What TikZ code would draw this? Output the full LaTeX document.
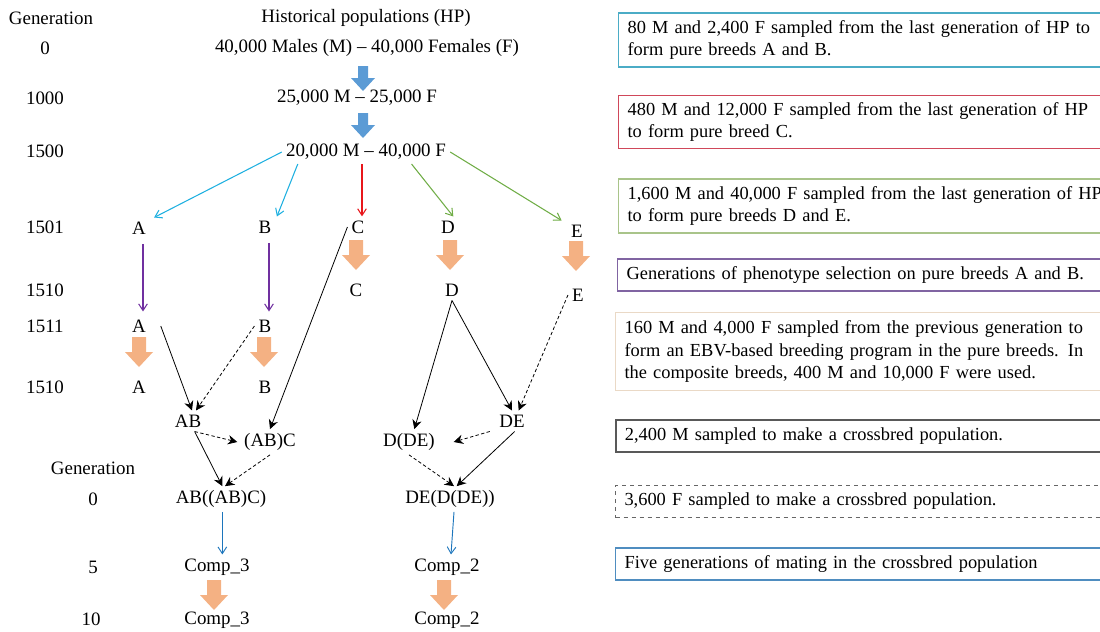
\documentclass[tikz,border=0pt]{standalone}
\usepackage{fontspec}
\setmainfont{Liberation Serif}
\usetikzlibrary{arrows.meta}

\definecolor{hpblue}{HTML}{5B9BD5}
\definecolor{selorange}{HTML}{F4B183}
\definecolor{abcyan}{HTML}{1FB0E0}
\definecolor{cred}{HTML}{E8161B}
\definecolor{degreen}{HTML}{70AD47}
\definecolor{phpurple}{HTML}{7030A0}
\definecolor{compblue}{HTML}{1C75BC}
\definecolor{boxcyan}{HTML}{4BACC6}
\definecolor{boxred}{HTML}{D0485A}
\definecolor{boxgreen}{HTML}{A9C48A}
\definecolor{boxpurple}{HTML}{8064A2}
\definecolor{boxtan}{HTML}{EAD9C6}
\definecolor{boxblue}{HTML}{4F8DC0}

\begin{document}
\begin{tikzpicture}[x=0.75pt, y=-0.75pt,
    lbl/.style={font=\fontsize{14.2}{17}\selectfont, inner sep=3pt},
    colarr/.style={-{Straight Barb[length=5pt, width=6.5pt]}, line width=0.8pt},
    crossarr/.style={-{Stealth[length=7pt, width=7pt]}, line width=0.6pt, black},
    femarr/.style={crossarr, dashed, dash pattern=on 2.5pt off 1.8pt},
    note/.style={draw, line width=0.9pt, anchor=west, align=left, text width=380pt,
        inner xsep=6.75pt, font=\fontsize{13.8}{17.2}\selectfont}]

    \useasboundingbox (0,0) rectangle (1100,632);
    \clip (0,0) rectangle (1100,632);

    % Generation column
    \node[lbl] (gtitle) at (51,18) {Generation};
    \foreach \g/\y in {0/48, 1000/98, 1500/151, 1501/227, 1510/290, 1511/326} {
        \node[lbl] (g\g) at (45,\y) {\g};
    }
    \node[lbl] (g1510b) at (45,387) {1510};
    \node[lbl] (gtitleb) at (93,468) {Generation};
    \node[lbl] (c0) at (93,499) {0};
    \node[lbl] (c5) at (93,567) {5};
    \node[lbl] (c10) at (91,619) {10};

    % Historical populations
    \node[lbl] (hp) at (366,18) {Historical populations (HP)};
    \node[lbl] (hp0) at (367,48) {40,000 Males (M) – 40,000 Females (F)};
    \node[lbl] (hp1000) at (357,98) {25,000 M – 25,000 F};
    \node[lbl] (hp1500) at (366,152) {20,000 M – 40,000 F};

    % Pure breeds
    \node[lbl] (A1) at (139,228) {A};
    \node[lbl] (B1) at (265,227) {B};
    \node[lbl] (C1) at (358,227) {C};
    \node[lbl] (D1) at (448,227) {D};
    \node[lbl] (E1) at (577,231) {E};
    \node[lbl] (C2) at (356,290) {C};
    \node[lbl] (D2) at (452,290) {D};
    \node[lbl] (E2) at (578,295) {E};
    \node[lbl] (A2) at (139,326) {A};
    \node[lbl] (B2) at (265,326) {B};
    \node[lbl] (A3) at (139,387) {A};
    \node[lbl] (B3) at (265,387) {B};

    % Crosses
    \node[lbl] (AB) at (188,421) {AB};
    \node[lbl] (ABC) at (270,442) {(AB)C};
    \node[lbl] (DDE) at (409,442) {D(DE)};
    \node[lbl] (DE) at (512,421) {DE};
    \node[lbl] (ABABC) at (221,499) {AB((AB)C)};
    \node[lbl] (DEDDE) at (450,499) {DE(D(DE))};
    \node[lbl] (comp3a) at (217,567) {Comp\_3};
    \node[lbl] (comp2a) at (447,567) {Comp\_2};
    \node[lbl] (comp3b) at (217,620) {Comp\_3};
    \node[lbl] (comp2b) at (447,620) {Comp\_2};

    % Block arrows (generations of random mating / selection)
    \foreach \x/\y in {363/66, 363/113} {
        \fill[hpblue] (\x-5,\y) -- (\x+5,\y) -- (\x+5,\y+12) -- (\x+12,\y+12) -- (\x,\y+25) -- (\x-12,\y+12) -- (\x-5,\y+12) -- cycle;
    }
    \foreach \x/\y in {356/240, 450/240, 576/241, 139/337, 264/337, 214/580, 444/580} {
        \fill[selorange] (\x-7,\y) -- (\x+7,\y) -- (\x+7,\y+15) -- (\x+14,\y+15) -- (\x,\y+30) -- (\x-14,\y+15) -- (\x-7,\y+15) -- cycle;
    }

    % Sampling from HP
    \draw[colarr, abcyan] (hp1500.west) -- ([xshift=3pt]A1.north east);
    \draw[colarr, abcyan] ([xshift=12pt]hp1500.south west) -- ([xshift=1pt]B1.north east);
    \draw[colarr, cred] ([xshift=-3pt]hp1500.south) -- ([xshift=-3pt]hp1500.south |- C1.north);
    \draw[colarr, degreen] ([xshift=-29pt]hp1500.south east) -- ([xshift=4pt]D1.north);
    \draw[colarr, degreen] (hp1500.east) -- ([xshift=-4pt]E1.north west);

    % Phenotype selection
    \draw[colarr, phpurple, shorten <=4pt, shorten >=3pt] ([xshift=3pt]A1.south) -- ([xshift=3pt]A2.north);
    \draw[colarr, phpurple, shorten <=4pt, shorten >=3pt] ([xshift=3pt]B1.south) -- ([xshift=3pt]B2.north);

    % Crossbreeding
    \draw[crossarr] ([xshift=8pt]A2.east) -- ([xshift=3pt]AB.north);
    \draw[femarr] (B2.west) -- ([xshift=6pt]AB.north);
    \draw[crossarr] (C1.west) -- (ABC.north);
    \draw[crossarr] (D2.south) -- ([xshift=4pt]DDE.north);
    \draw[crossarr] (D2.south) -- (DE.north);
    \draw[femarr] (E2.west) -- ([xshift=5pt]DE.north);
    \draw[femarr] ([xshift=5pt]AB.south) -- ([xshift=-2pt]ABC.west);
    \draw[crossarr] ([xshift=5pt]AB.south) -- ([xshift=1pt]ABABC.north);
    \draw[femarr] (ABC.south) -- ([xshift=3pt]ABABC.north);
    \draw[femarr] ([xshift=-4pt]DE.south west) -- ([xshift=11pt]DDE.east);
    \draw[femarr] (DDE.south) -- ([xshift=3pt]DEDDE.north);
    \draw[crossarr] ([xshift=2pt]DE.south) -- ([xshift=5pt]DEDDE.north);

    % Random mating in the composites
    \draw[colarr, compblue, line width=0.7pt] ([xshift=1pt]ABABC.south) -- ([xshift=4pt]comp3a.north);
    \draw[colarr, compblue, line width=0.7pt] ([xshift=3pt]DEDDE.south) -- ([xshift=3pt]comp2a.north);

    % Legend boxes
    \node[note, boxcyan, text=black, minimum height=40.5pt] (n1) at (618,40)
        {80 M and 2,400 F sampled from the last generation of HP to\\form pure breeds A and B.};
    \node[note, boxred, text=black, minimum height=40pt] (n2) at (618,122)
        {480 M and 12,000 F sampled from the last generation of HP\\to form pure breed C.};
    \node[note, boxgreen, text=black, minimum height=40.5pt] (n3) at (618,206)
        {1,600 M and 40,000 F sampled from the last generation of HP\\to form pure breeds D and E.};
    \node[note, boxpurple, text=black, minimum height=24pt] (n4) at (617,275)
        {Generations of phenotype selection on pure breeds A and B.};
    \node[note, boxtan, text=black, minimum height=58pt] (n5) at (615,351.5)
        {160 M and 4,000 F sampled from the previous generation to\\form an EBV-based breeding program in the pure breeds. In\\the composite breeds, 400 M and 10,000 F were used.};
    \node[note, black!65, line width=1.3pt, text=black, minimum height=24pt] (n6) at (615,436)
        {2,400 M sampled to make a crossbred population.};
    \node[note, black!60, dashed, line width=0.8pt, text=black, minimum height=24.5pt] (n7) at (615,501.5)
        {3,600 F sampled to make a crossbred population.};
    \node[note, boxblue, text=black, minimum height=24pt] (n8) at (615,564)
        {Five generations of mating in the crossbred population};
\end{tikzpicture}
\end{document}
